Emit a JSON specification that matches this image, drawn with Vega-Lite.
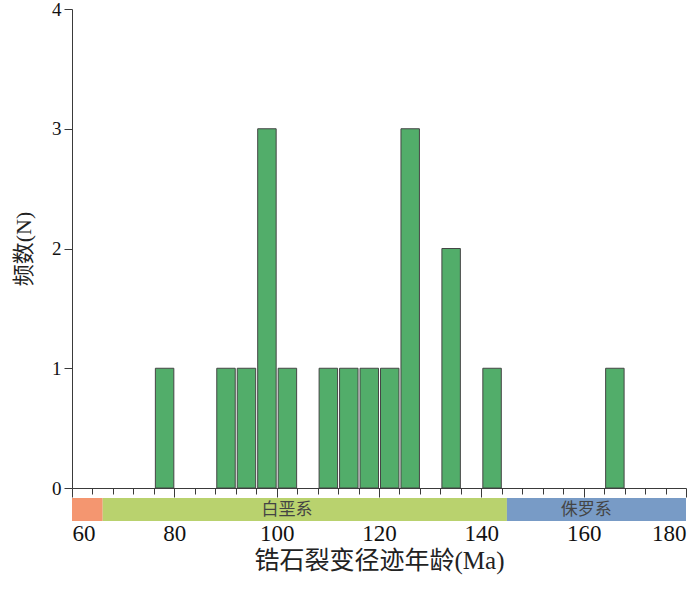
{
  "$schema": "https://vega.github.io/schema/vega-lite/v6.json",
  "padding": {"left": 12, "top": 0, "right": 5, "bottom": 5},
  "background": "white",
  "spacing": 0,
  "config": {
    "view": {"stroke": null},
    "axis": {
      "grid": false,
      "domainColor": "#3a3a3a",
      "tickColor": "#3a3a3a",
      "labelColor": "#111111",
      "titleColor": "#222222",
      "labelFont": "Liberation Serif",
      "titleFont": "Liberation Serif, Noto Sans CJK SC",
      "titleFontWeight": "normal",
      "labelFontSize": 21
    }
  },
  "vconcat": [
    {
      "width": 614,
      "height": 479,
      "data": {
        "values": [
          {"start": 76, "end": 80, "count": 1},
          {"start": 88, "end": 92, "count": 1},
          {"start": 92, "end": 96, "count": 1},
          {"start": 96, "end": 100, "count": 3},
          {"start": 100, "end": 104, "count": 1},
          {"start": 108, "end": 112, "count": 1},
          {"start": 112, "end": 116, "count": 1},
          {"start": 116, "end": 120, "count": 1},
          {"start": 120, "end": 124, "count": 1},
          {"start": 124, "end": 128, "count": 3},
          {"start": 132, "end": 136, "count": 2},
          {"start": 140, "end": 144, "count": 1},
          {"start": 164, "end": 168, "count": 1}
        ]
      },
      "mark": {"type": "bar", "fill": "#52ad6a", "stroke": "#454545", "strokeWidth": 1, "binSpacing": 2},
      "encoding": {
        "x": {
          "field": "start",
          "type": "quantitative",
          "bin": {"binned": true, "step": 4},
          "scale": {"domain": [60, 180], "nice": false, "zero": false},
          "axis": {
            "values": [60, 64, 68, 72, 76, 80, 84, 88, 92, 96, 100, 104, 108, 112, 116, 120, 124, 128, 132, 136, 140, 144, 148, 152, 156, 160, 164, 168, 172, 176, 180],
            "labels": false,
            "title": null,
            "tickSize": {"condition": {"test": "datum.value % 20 === 0", "value": 9}, "value": 6}
          }
        },
        "x2": {"field": "end"},
        "y": {
          "field": "count",
          "type": "quantitative",
          "scale": {"domain": [0, 4], "nice": false},
          "axis": {
            "values": [0, 1, 2, 3, 4],
            "title": "频数(N)",
            "titleFontSize": 22,
            "titlePadding": 16,
            "labelFontSize": 19,
            "tickSize": 8,
            "labelPadding": 3
          }
        }
      }
    },
    {
      "width": 614,
      "height": 23,
      "data": {
        "values": [
          {"period": "古近系", "label": "", "start": 60, "end": 66, "label_x": 63},
          {"period": "白垩系", "label": "白垩系", "start": 66, "end": 145, "label_x": 102},
          {"period": "侏罗系", "label": "侏罗系", "start": 145, "end": 180, "label_x": 160.5}
        ]
      },
      "layer": [
        {
          "mark": {"type": "rect"},
          "encoding": {
            "x": {
              "field": "start",
              "type": "quantitative",
              "scale": {"domain": [60, 180], "nice": false, "zero": false},
              "axis": {
                "values": [60, 80, 100, 120, 140, 160, 180],
                "domain": false,
                "ticks": false,
                "labelPadding": 1,
                "labelFontSize": 23,
                "title": "锆石裂变径迹年龄(Ma)",
                "titleFontSize": 25,
                "titlePadding": 3
              }
            },
            "x2": {"field": "end"},
            "color": {
              "field": "period",
              "type": "nominal",
              "scale": {"domain": ["古近系", "白垩系", "侏罗系"], "range": ["#f49670", "#b9d26e", "#789bc6"]},
              "legend": null
            }
          }
        },
        {
          "mark": {"type": "text", "font": "Noto Sans CJK SC", "fontSize": 17, "color": "#444444"},
          "encoding": {
            "x": {"field": "label_x", "type": "quantitative"},
            "text": {"field": "label"}
          }
        }
      ]
    }
  ]
}
